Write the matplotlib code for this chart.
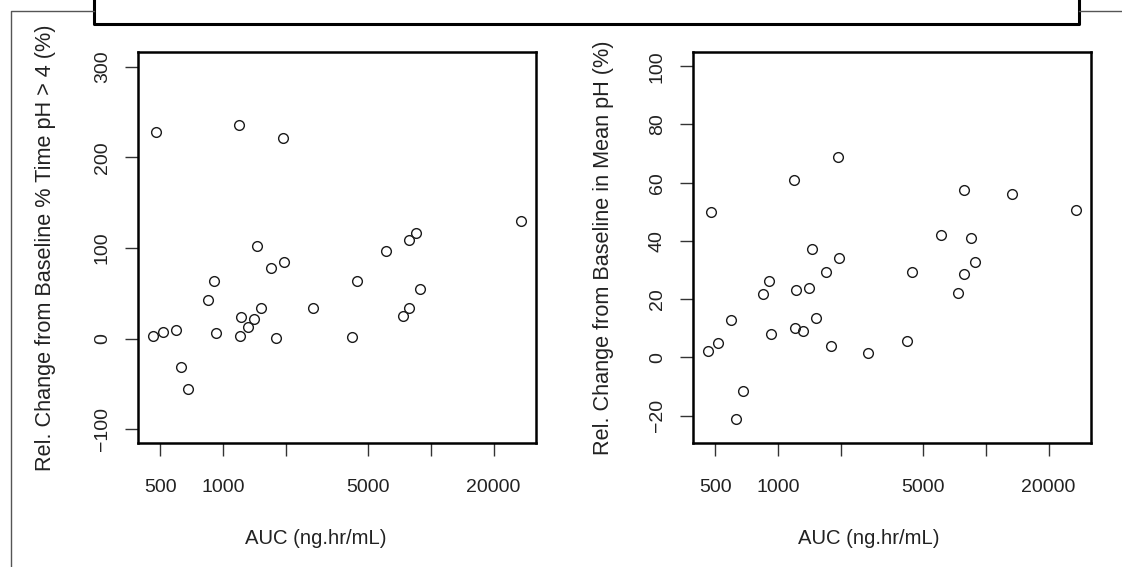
import numpy as np
import matplotlib
matplotlib.use('Agg')
import matplotlib.pyplot as plt
from matplotlib.lines import Line2D

plt.rcParams['font.family'] = ['Liberation Sans', 'DejaVu Sans']

# AUC per subject (ng.hr/mL), shared by both panels
auc = [459, 475, 516, 594, 630, 678, 844, 902, 925, 1187, 1212, 1225, 1316,
       1412, 1460, 1518, 1707, 1805, 1932, 1962, 2700, 4160, 4390, 6050,
       7370, 7850, 7875, 8470, 8850, 13400, 27100]

# rel. change from baseline in % time pH > 4 (no value for one subject)
time_ph4 = [2.8, 228, 7.9, 9.4, -30.7, -56, 42.5, 63.5, 6.8, 235, 2.4, 24.1,
            12.4, 21.5, 102.4, 34, 77.5, 0.5, 221, 84.8, 34, 2, 63.5, 96.6,
            24.8, 108.7, 34, 116, 55, np.nan, 130]

# rel. change from baseline in mean pH
mean_ph = [2.2, 49.9, 4.9, 12.7, -21.3, -11.6, 21.8, 26.2, 7.9, 60.8, 10.2,
           23.1, 9.1, 23.7, 37.1, 13.6, 29.2, 3.9, 68.7, 34.1, 1.4, 5.5, 29.4,
           42.2, 22.1, 57.4, 28.5, 41.1, 32.9, 56.2, 50.7]

xticks = [500, 1000, 2000, 5000, 10000, 20000]
xticklabels = ['500', '1000', '', '5000', '', '20000']

W, H = 1122, 567
fig = plt.figure(figsize=(W / 100, H / 100), dpi=100)

def fx(px):
    return px / W

def fy(py):
    return 1 - py / H

txt = '#222222'
fs = 14

panels = [
    dict(rect=[fx(138), fy(443), fx(536) - fx(138), fy(52) - fy(443)],
         y=time_ph4, ylim=(-115, 316), yticks=[-100, 0, 100, 200, 300],
         ylabel='Rel. Change from Baseline % Time pH > 4 (%)',
         ylab_x=45.5, xlab_x=316),
    dict(rect=[fx(693), fy(443), fx(1091) - fx(693), fy(52) - fy(443)],
         y=mean_ph, ylim=(-29.4, 104.9), yticks=[-20, 0, 20, 40, 60, 80, 100],
         ylabel='Rel. Change from Baseline in Mean pH (%)',
         ylab_x=603, xlab_x=869),
]

for p in panels:
    ax = fig.add_axes(p['rect'])
    ax.plot(auc, p['y'], 'o', ms=7, mfc='none', mec='#1a1a1a', mew=1.0)
    ax.set_xscale('log')
    ax.set_xlim(390, 32000)
    ax.set_ylim(*p['ylim'])
    ax.set_xticks(xticks)
    ax.set_xticklabels(xticklabels)
    ax.minorticks_off()
    ax.set_yticks(p['yticks'])
    ax.set_yticklabels([str(v).replace('-', '\u2212') for v in p['yticks']])
    for s in ax.spines.values():
        s.set_linewidth(1.8)
    ax.tick_params(length=9.5, width=1.0, color='#333333', labelsize=fs,
                   labelcolor=txt)
    ax.tick_params(axis='x', pad=16.5)
    ax.tick_params(axis='y', pad=10)
    for lab in ax.get_yticklabels():
        lab.set_rotation(90)
        lab.set_va('center')
    fig.text(fx(p['xlab_x']), fy(538), 'AUC (ng.hr/mL)', ha='center',
             va='center', fontsize=14.6, color=txt)
    fig.text(fx(p['ylab_x']), fy(247.5), p['ylabel'], rotation=90,
             ha='center', va='center', fontsize=15.6, color=txt)

# surrounding frame fragments
fig.add_artist(Line2D([fx(94), fx(94), fx(1079), fx(1079)],
                      [fy(-5), fy(24), fy(24), fy(-5)],
                      color='black', lw=2.2, transform=fig.transFigure))
fig.add_artist(Line2D([fx(11), fx(11), fx(94)], [fy(570), fy(11), fy(11)],
                      color='#555555', lw=1.0, transform=fig.transFigure))
fig.add_artist(Line2D([fx(1079), fx(1125)], [fy(11), fy(11)],
                      color='#555555', lw=1.0, transform=fig.transFigure))

fig.savefig('out.png', dpi=100)
